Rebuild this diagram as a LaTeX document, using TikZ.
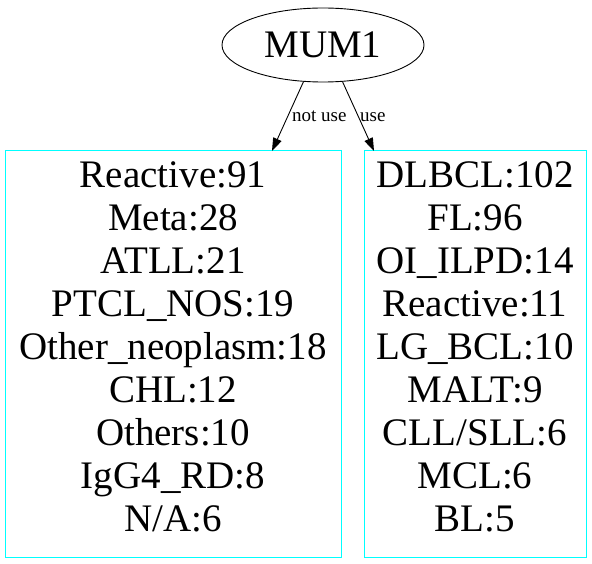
\documentclass[tikz,border=0pt]{standalone}
\usepackage{fontspec}
\setmainfont{Liberation Serif}
\usetikzlibrary{arrows.meta,shapes.geometric}
\definecolor{aqua}{RGB}{0,255,255}
\begin{document}
\begin{tikzpicture}[x=1pt,y=1pt,
  bigtext/.style={font=\fontsize{39}{43}\selectfont, align=center, inner sep=0pt},
  catbox/.style={draw=aqua, line width=1pt, inner sep=0pt},
  edgelab/.style={font=\fontsize{19}{22}\selectfont, inner sep=0pt, anchor=base west},
  conn/.style={line width=0.9pt, -{Triangle[length=13pt,width=9pt]}}]
\useasboundingbox (0,0) rectangle (592,563);
% root ellipse
\node[draw, ellipse, line width=0.9pt, minimum width=202pt, minimum height=74pt, inner sep=0pt,
      font=\fontsize{39}{43}\selectfont] (M) at (323,518) {MUM1};
% boxes
\node[catbox, minimum width=336pt, minimum height=406pt] (L) at (173,209) {};
\node[catbox, minimum width=222pt, minimum height=406pt] (R) at (475,209) {};
% texts
\node[bigtext] (Lt) at (173,216) {Reactive:91\\Meta:28\\ATLL:21\\PTCL\_NOS:19\\Other\_neoplasm:18\\CHL:12\\Others:10\\IgG4\_RD:8\\N/A:6};
\node[bigtext] (Rt) at (475,216) {DLBCL:102\\FL:96\\OI\_ILPD:14\\Reactive:11\\LG\_BCL:10\\MALT:9\\CLL/SLL:6\\MCL:6\\BL:5};
% connectors
\coordinate (tl) at (272,412);
\coordinate (tr) at (374,412);
\draw[conn] (M.242) -- (tl);
\draw[conn] (M.298) -- (tr);
\node[edgelab] (nl) at (292,441) {not use};
\node[edgelab] (ul) at (360,441) {use};
\end{tikzpicture}
\end{document}
